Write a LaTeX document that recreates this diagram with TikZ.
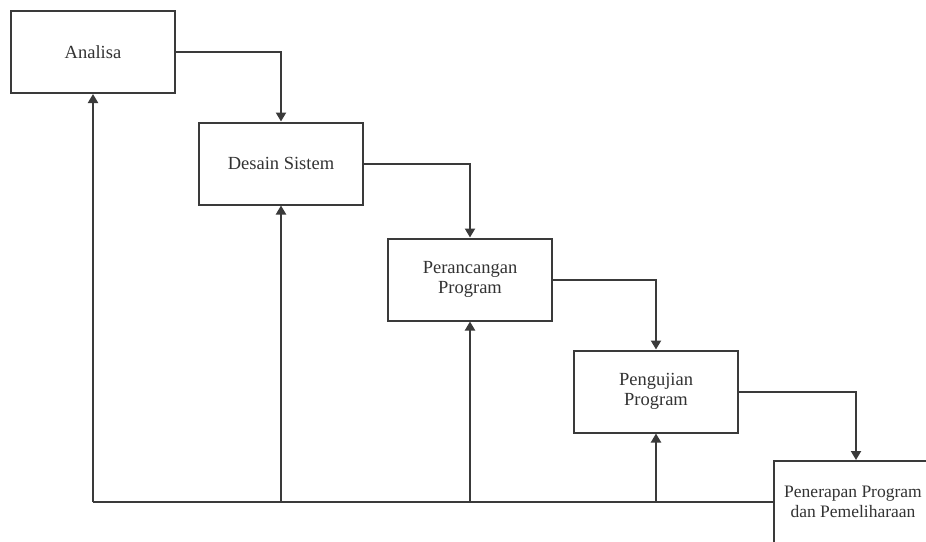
\documentclass[tikz,border=0pt]{standalone}
\usepackage{fontspec}
\setmainfont{Liberation Serif}
\usetikzlibrary{arrows.meta}
\definecolor{linegray}{HTML}{3A3A3A}
\definecolor{textgray}{HTML}{333333}
\begin{document}
\begin{tikzpicture}[x=1pt,y=-1pt,
  box/.style={draw=linegray, line width=2pt, fill=white, minimum width=164pt, minimum height=82pt,
    align=center, font=\fontsize{18.5}{20}\selectfont, inner sep=0pt, text=textgray},
  conn/.style={draw=linegray, line width=2pt},
  flow/.style={conn, -{Triangle[width=10pt,length=9pt]}}]
\useasboundingbox (0,0) rectangle (926,541);
\clip (0,0) rectangle (926,541);
\fill[white] (0,0) rectangle (926,541);
\node[box] (a) at (93,52) {Analisa};
\node[box] (b) at (281,163.5) {Desain Sistem};
\node[box] (c) at (470,279.5) {Perancangan\\Program};
\node[box] (d) at (656,391.5) {Pengujian\\Program};
\node[box] (e) at (856,502) {};
\node[align=center, inner sep=0pt, text=textgray, font=\fontsize{17.5}{20}\selectfont] (et) at (853,502) {Penerapan Program\\dan Pemeliharaan};
% forward flow
\draw[flow] (a.east) -| (b.north);
\draw[flow] (b.east) -| (c.north);
\draw[flow] (c.east) -| (d.north);
\draw[flow] (d.east) -| (e.north);
% feedback
\coordinate (fa) at (a.south |- e.west);
\coordinate (fb) at (b.south |- e.west);
\coordinate (fc) at (c.south |- e.west);
\coordinate (fd) at (d.south |- e.west);
\draw[conn] (e.west) -- (fa);
\draw[flow] (fa) -- (a.south);
\draw[flow] (fb) -- (b.south);
\draw[flow] (fc) -- (c.south);
\draw[flow] (fd) -- (d.south);
\end{tikzpicture}
\end{document}
